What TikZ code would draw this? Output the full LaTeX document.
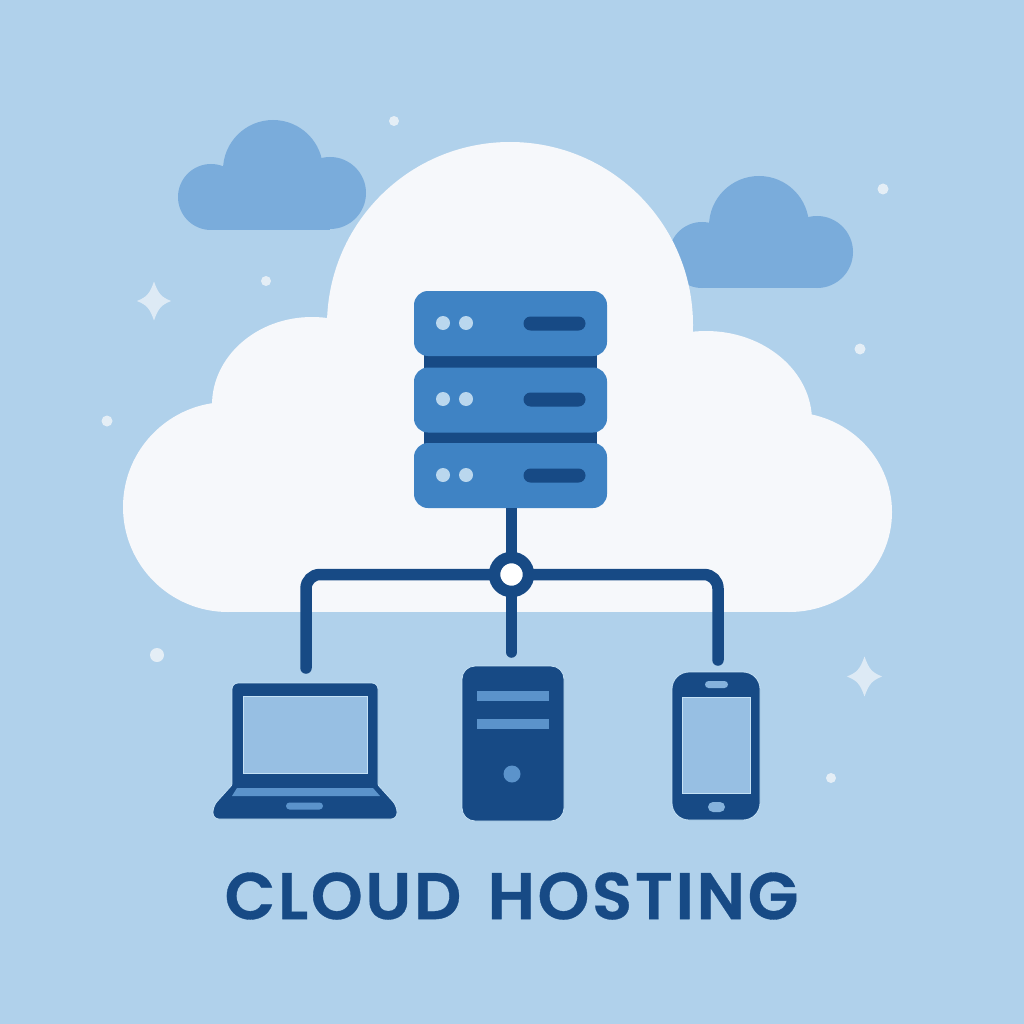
\documentclass[tikz,border=0pt]{standalone}
\usepackage{fontspec}
\setmainfont{Poppins}
\newfontfamily\titlefont{Poppins SemiBold}[LetterSpace=4,FakeBold=0.5]
\definecolor{bgc}{HTML}{B0D1EB}
\definecolor{cloudc}{HTML}{7AACDB}
\definecolor{whitec}{HTML}{F6F8FB}
\definecolor{unitc}{HTML}{3F83C4}
\definecolor{darkc}{HTML}{174A85}
\definecolor{ledc}{HTML}{BAD7EE}
\definecolor{screenc}{HTML}{97BFE3}
\definecolor{slotc}{HTML}{5B93CB}
\definecolor{haloc}{HTML}{C6E2F6}
\tikzset{
  box/.style={rectangle,inner sep=0pt,outer sep=0pt},
  unitbox/.style={box,fill=unitc,minimum width=193pt,minimum height=65pt,rounded corners=14pt},
  barbox/.style={box,fill=darkc,minimum width=173pt,minimum height=13pt},
  led/.style={circle,inner sep=0pt,outer sep=0pt,fill=ledc,minimum size=14pt},
  slotbox/.style={box,fill=darkc,minimum width=62pt,minimum height=14pt,rounded corners=7pt},
  wire/.style={draw=darkc,line width=11.5pt,line cap=round},
  devbody/.style={box,fill=darkc,draw=haloc,line width=0.8pt},
  devscreen/.style={box,fill=screenc,draw=haloc,line width=0.6pt},
  devslot/.style={box,fill=slotc},
  sparkle/.style={fill=whitec,fill opacity=.65}
}
\newcommand{\sparkleat}[3]{%
  \fill[sparkle] (#1,#2-#3*1.08) .. controls (#1+#3*.24,#2-#3*.4) and (#1+#3*.4,#2-#3*.22) .. (#1+#3*.95,#2)
   .. controls (#1+#3*.4,#2+#3*.22) and (#1+#3*.24,#2+#3*.4) .. (#1,#2+#3*1.08)
   .. controls (#1-#3*.24,#2+#3*.4) and (#1-#3*.4,#2+#3*.22) .. (#1-#3*.95,#2)
   .. controls (#1-#3*.4,#2-#3*.22) and (#1-#3*.24,#2-#3*.4) .. (#1,#2-#3*1.08) -- cycle;}
\begin{document}
\begin{tikzpicture}[x=1pt,y=-1pt]
\useasboundingbox (0,0) rectangle (1024,1024);
\fill[bgc] (0,0) rectangle (1024,1024);
% small clouds
\begin{scope}[fill=cloudc]
\fill (211,197) circle[radius=33];
\fill (273,170) circle[radius=50];
\fill (330,193) circle[radius=36];
\fill (211,170) rectangle (330,230);
\fill (702,255) circle[radius=33];
\fill (759,226) circle[radius=50];
\fill (817,252) circle[radius=36];
\fill (702,226) rectangle (817,288);
\end{scope}
% main cloud
\begin{scope}[fill=whitec]
\fill (228,507) circle[radius=105];
\fill (312,405) ellipse[x radius=100,y radius=88];
\fill (510,325) circle[radius=183];
\fill (706,421) ellipse[x radius=106,y radius=90];
\fill (789,512) ellipse[x radius=103,y radius=100];
\fill (228,410) rectangle (789,612);
\end{scope}
% dots and sparkles
\foreach \x/\y/\r in {394/121/5,883/189/5.5,266/281/5,860/349/5.5,107/421/5.5,157/655/7,831/778/5}
  \fill[whitec,fill opacity=.75] (\x,\y) circle[radius=\r];
\sparkleat{154}{301}{18}
\sparkleat{864.5}{676.5}{18.5}
% server rack
\node[barbox] (bar1) at (510.5,361) {};
\node[barbox] (bar2) at (510.5,437.5) {};
\node[unitbox] (u1) at (510.5,323.5) {};
\node[unitbox] (u2) at (510.5,400) {};
\node[unitbox] (u3) at (510.5,475.5) {};
\foreach \u/\y in {a/323,b/399,c/475}{
  \node[led] (led1\u) at (443,\y) {};
  \node[led] (led2\u) at (466,\y) {};
  \node[slotbox] (slot\u) at (554.5,\y+0.5) {};
}
% connectors, then the hub ring over them
\node[circle,inner sep=0pt,outer sep=0pt,minimum size=34pt] (hub) at (511.5,574.5) {};
\coordinate (u3b) at (511.5,508);
\coordinate (endL) at (306,668);
\coordinate (endM) at (511.5,652);
\coordinate (endR) at (718,660);
\draw[wire,line cap=butt] (u3b) -- (hub.center);
\draw[wire] (hub.center) -- (endM);
\draw[wire,rounded corners=14pt] (hub.center) -| (endL);
\draw[wire,rounded corners=14pt] (hub.center) -| (endR);
\node[circle,inner sep=0pt,outer sep=0pt,minimum size=34pt,draw=darkc,line width=11.5pt,fill=white] (hubring) at (hub.center) {};
% laptop
\filldraw[fill=darkc,draw=haloc,line width=.8pt,rounded corners=6pt] (232,785) -- (232,683) -- (378,683) -- (378,785)
  [rounded corners=1pt] -- (378,785) [rounded corners=6pt] -- (397,806) -- (397,819) -- (213,819) -- (213,806) [rounded corners=1pt] -- (232,785) -- cycle;
\node[devscreen,minimum width=124pt,minimum height=77pt] (lscreen) at (305,734.5) {};
\fill[slotc] (237,788) -- (373,788) -- (380,796) -- (232,796) -- cycle;
\node[devslot,minimum width=37pt,minimum height=7pt,rounded corners=3.5pt] (lpad) at (304.5,806) {};
% tower
\node[devbody,minimum width=102pt,minimum height=155pt,rounded corners=13pt] (tower) at (513,743.5) {};
\node[devslot,minimum width=72pt,minimum height=10pt] (ts1) at (513,696) {};
\node[devslot,minimum width=72pt,minimum height=10pt] (ts2) at (513,724) {};
\node[circle,inner sep=0pt,fill=slotc,minimum size=17pt] (tbtn) at (512,774) {};
% phone
\node[devbody,minimum width=88pt,minimum height=148pt,rounded corners=17pt] (phone) at (716,746) {};
\node[devscreen,minimum width=68pt,minimum height=96pt] (pscreen) at (716,745) {};
\node[devslot,minimum width=23pt,minimum height=7pt,rounded corners=3.5pt,fill=screenc!70!slotc] (pspk) at (716.5,684.5) {};
\node[devslot,minimum width=17pt,minimum height=10pt,rounded corners=5pt,fill=screenc!70!slotc] (phome) at (716.5,807) {};
% title
\node[inner sep=0pt,anchor=center,text=darkc] (title) at (511.5,896) {\fontsize{66}{66}\titlefont CLOUD\hspace{8pt} HOSTING};
\end{tikzpicture}
\end{document}
